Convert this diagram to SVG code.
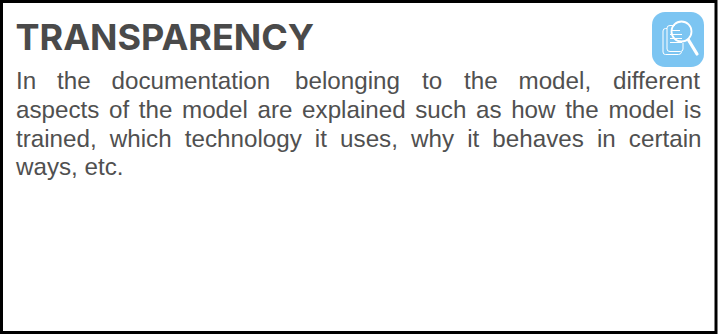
<svg xmlns="http://www.w3.org/2000/svg" width="719" height="334" viewBox="0 0 719 334">
<style>
.b{font-family:"Liberation Sans",Arial,sans-serif;font-size:24.200px;fill:#505050}
.t{font-family:Inter,"Liberation Sans",sans-serif;font-size:36px;font-weight:700;fill:#4a4a4a}
.w{fill:none;stroke:#fff}
</style>
<rect id="frame" x="1.500" y="1.500" width="714.500" height="331" fill="#fff" stroke="#000" stroke-width="3"/>
<text class="t" x="15.500" y="50">TRANSPARENCY</text>
<g id="icon">
<rect x="652" y="12" width="52" height="55" rx="13" fill="#7cc5f2"/>
<g class="w" stroke-width="1">
<path d="M667 28.500h-1.500q-2.500 0-2.500 2.500v21q0 2.500 2.500 2.500h13q2.500 0 3-2.500"/>
<path d="M670 51.500h10.500q2.500 0 2.500-2.500v-6M670 51.500q-3 0-3-2.500v-21q0-2.500 3-2.500h5"/>
<path d="M671 30.500h9M670 34.500h12M670 38.500h12M670 42.500h12"/>
</g>
<circle cx="681.500" cy="31.500" r="10" class="w" stroke-width="1.800"/>
<path d="M688.500 40l8.500 14" class="w" stroke-width="3.200" stroke-linecap="round"/>
</g>
<text class="b" y="89"><tspan x="16">In </tspan><tspan x="57">the </tspan><tspan x="111.500">documentation </tspan><tspan x="295">belonging </tspan><tspan x="422">to </tspan><tspan x="464">the </tspan><tspan x="518.500">model, </tspan><tspan x="613">different</tspan></text>
<text class="b" x="16" y="118" word-spacing="2.900">aspects of the model are explained such as how the model is</text>
<text class="b" x="16" y="147" word-spacing="6.400">trained, which technology it uses, why it behaves in certain</text>
<text class="b" x="16" y="175">ways, etc.</text>
</svg>
